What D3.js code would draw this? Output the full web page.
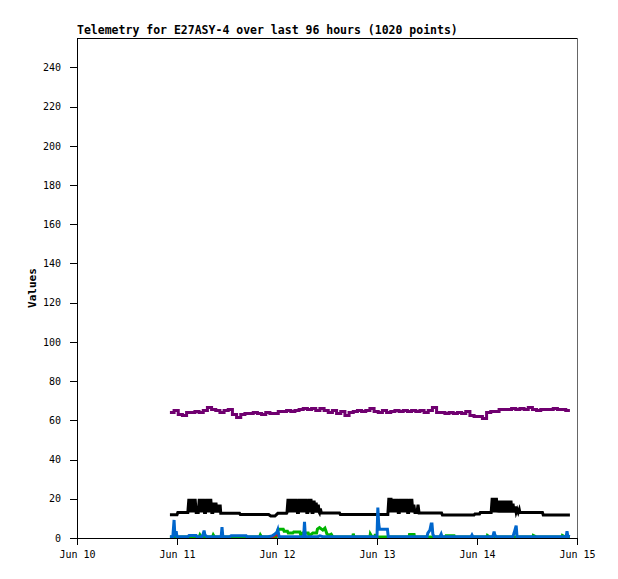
<!DOCTYPE html>
<html>
<head>
<meta charset="utf-8">
<script src="https://cdn.jsdelivr.net/npm/d3@7"></script>
<style>
  body { margin: 0; background: #fff; }
  svg { display: block; }
  .axis text { font-family: "DejaVu Sans Mono", monospace; font-size: 10px; fill: #000; }
  .axis path, .axis line { stroke: #000; shape-rendering: crispEdges; }
  .title { font-family: "DejaVu Sans Mono", monospace; font-size: 11.5px; font-weight: bold; }
  .ylabel { font-family: "DejaVu Sans Mono", monospace; font-size: 11px; font-weight: bold; }
  .series { fill: none; stroke-linejoin: miter; }
</style>
</head>
<body>
<svg id="chart" width="618" height="579"></svg>
<script>
// telemetry chart, hours counted from Jun 10 00:00
const titleText = "Telemetry for E27ASY-4 over last 96 hours (1020 points)";
const yTicks = [0, 20, 40, 60, 80, 100, 120, 140, 160, 180, 200, 220, 240];
const xTickHours = [0, 24, 48, 72, 96, 120];
const xTickLabels = ["Jun 10", "Jun 11", "Jun 12", "Jun 13", "Jun 14", "Jun 15"];

// purple series, hourly samples from hour 22.3
const purpleStart = 22.3;
const purpleValues = [
  64, 65, 63, 62.5, 64, 64, 64.5, 64, 65, 66.5, 65.5, 65, 64, 65, 65.5, 63, 61.5, 63, 63.5, 63.5,
  64, 63.5, 63, 64, 63.5, 63.5, 64.5, 64.5, 65, 64.5, 65, 65.5, 66, 65.5, 66, 65, 66, 65, 64, 65,
  63.5, 64.5, 62.5, 64, 64.5, 65, 64.5, 65, 66, 64.5, 64, 65, 64, 64.5, 65, 64.5, 65, 64.5, 65, 64.5,
  65, 64, 65, 66.5, 64, 64, 63.5, 64, 63.5, 64, 63.5, 64.5, 62.5, 62, 62, 61, 64, 64.5, 64.5, 65.5,
  65.5, 65.5, 66, 65.5, 66, 65.5, 66.5, 65.5, 65, 65.5, 65.5, 65.5, 66, 65.5, 65.5, 65, 65
];

// black series: quiet level [hour, value]
const blackLevel = [
  [22.3, 11.8], [24.0, 11.8], [24.2, 13.0], [26.5, 13.0],
  [34.5, 12.6], [39.0, 12.6], [39.2, 12.0], [46.0, 12.0], [46.5, 11.2], [47.5, 11.2], [48.2, 12.6], [50.3, 12.6],
  [58.2, 12.8], [63.0, 12.8], [63.2, 12.0], [74.5, 12.0],
  [82.3, 12.7], [87.5, 12.7], [87.7, 11.7], [95.3, 11.7], [95.5, 12.2], [96.6, 12.2], [96.8, 13.0], [99.3, 13.0],
  [106.3, 13.0], [111.7, 13.0], [111.9, 11.7], [118.3, 11.7]
];
// black daily bursts, samples every 0.25 h
const burstStep = 0.25;
const burstStarts = [26.6, 50.4, 74.6, 99.4];
const burst1 = [13, 20, 13, 20, 13, 20, 13, 20, 13, 13, 13, 20, 13, 20, 13, 20, 13, 13, 20, 13, 20, 13, 20, 13, 13, 18, 13, 18, 13, 17, 13, 17, 12.6];
const burst2 = [13, 20, 13, 20, 13, 20, 13, 20, 13, 20, 13, 13, 20, 13, 20, 13, 20, 13, 20, 13, 13, 20, 13, 20, 13, 13, 19, 13, 18, 13, 17, 13, 15, 12.8];
const burst3 = [12, 20.5, 13, 20.5, 13, 20, 13, 20, 13, 20, 13, 13, 20, 13, 20, 13, 20, 13, 20, 13, 13, 20, 13, 20, 13, 17, 13, 13, 13, 17, 12.7];
const burst4 = [13, 20.5, 13, 20.5, 13, 20.5, 13, 19, 13, 19, 13, 19, 13, 19, 13, 19, 13, 19, 13, 19, 13, 17.5, 13, 16, 13, 14.5, 13, 14.5, 13];

// blue series [hour, value]
const blueSeries = [
  [22.3, 0.7], [23.0, 0.7], [23.3, 9.2], [23.5, 0.8], [23.8, 3.5], [24.0, 0.7],
  [26.6, 0.7], [26.9, 1.3], [28.6, 1.3], [28.8, 0.7], [30.0, 0.7], [30.2, 1.5], [30.5, 3.8], [30.7, 1.5], [31.2, 0.7],
  [34.6, 0.7], [34.8, 5.5], [35.0, 0.7], [36.7, 0.7], [37.0, 1.1], [40.6, 1.1], [40.8, 0.7],
  [45.8, 0.7], [46.8, 1.0], [47.5, 2.0], [48.0, 3.0], [48.2, 4.2], [48.5, 0.8],
  [54.4, 0.7], [54.6, 8.3], [54.8, 0.8], [57.8, 0.7], [58.3, 1.1], [59.0, 0.7],
  [72.0, 0.7], [72.2, 15.5], [72.4, 7.5], [72.6, 4.5], [74.5, 4.5], [74.7, 0.7],
  [84.0, 0.7], [84.2, 2.5], [84.7, 4.0], [85.0, 7.1], [85.2, 7.1], [85.4, 2.0], [85.7, 0.7],
  [87.1, 0.7], [87.4, 2.0], [87.6, 0.7], [94.6, 0.7], [94.8, 1.5], [95.0, 0.7],
  [99.8, 0.7], [100.1, 3.2], [100.3, 1.5], [100.6, 0.7],
  [104.6, 0.7], [104.9, 2.5], [105.4, 6.3], [105.6, 0.8],
  [117.4, 0.7], [117.6, 3.5], [117.8, 1.0], [118.3, 0.7]
];

// green series [hour, value]
const greenSeries = [
  [22.3, 0.5], [29.3, 0.5], [29.5, 1.6], [29.8, 0.5], [32.5, 0.5], [32.7, 1.6], [33.0, 0.5],
  [43.8, 0.5], [44.0, 1.6], [44.3, 0.5],
  [47.8, 0.5], [48.0, 2.5], [48.3, 4.5], [49.5, 4.5], [49.7, 3.5], [50.5, 3.5], [50.7, 2.5], [51.8, 2.5],
  [52.0, 3.0], [53.5, 3.0], [53.7, 1.5], [54.2, 2.5], [55.5, 2.5], [55.7, 1.0], [56.6, 2.5], [57.5, 2.5],
  [57.7, 4.5], [58.2, 5.3], [59.0, 4.0], [59.5, 5.0], [60.0, 2.0], [60.5, 1.5], [61.0, 2.0], [61.4, 0.5],
  [66.2, 0.5], [66.3, 2.2], [66.5, 0.5], [70.3, 0.5], [70.4, 2.0], [70.8, 0.5], [71.5, 0.5], [71.6, 2.0], [71.8, 0.5],
  [79.7, 0.5], [79.8, 1.8], [80.9, 1.8], [81.0, 0.5], [88.5, 0.5], [88.6, 1.2], [90.5, 1.2], [90.6, 0.5],
  [98.4, 0.5], [98.5, 1.3], [99.0, 0.5], [109.4, 0.5], [109.5, 1.3], [110.3, 0.5],
  [116.4, 0.5], [116.5, 1.3], [117.2, 0.5], [118.3, 0.5]
];

// red series [hour, value]
const redSeries = [[46.3, 0.3], [47.2, 0.8], [48.0, 2.3], [48.3, 0.4]];

(function () {
    const svg = d3.select("#chart");
    const margin = {top: 38, right: 41, bottom: 41, left: 77};
    const width = 618 - margin.left - margin.right;
    const height = 579 - margin.top - margin.bottom;

    const x = d3.scaleLinear().domain([0, 120]).range([0, width]);
    const y = d3.scaleLinear().domain([0, 255]).range([height, 0]);

    const g = svg.append("g").attr("transform", `translate(${margin.left}, ${margin.top})`);

    svg.append("text")
        .attr("class", "title")
        .attr("x", margin.left)
        .attr("y", 34)
        .text(titleText);

    svg.append("text")
        .attr("class", "ylabel")
        .attr("transform", `translate(36, ${margin.top + height / 2}) rotate(-90)`)
        .attr("text-anchor", "middle")
        .text("Values");

    // frame top and right
    g.append("line").attr("x1", 0).attr("x2", width).attr("y1", 0.5).attr("y2", 0.5)
        .attr("stroke", "#000").style("shape-rendering", "crispEdges");
    g.append("line").attr("x1", width + 0.5).attr("x2", width + 0.5).attr("y1", 0).attr("y2", height)
        .attr("stroke", "#666").style("shape-rendering", "crispEdges");

    // build series points
    const purple = purpleValues.map((v, i) => [purpleStart + i, v]);
    const bursts = [burst1, burst2, burst3, burst4].map((b, k) =>
        b.map((v, i) => [burstStarts[k] + i * burstStep, v]));
    const black = blackLevel.concat(...bursts).sort((a, b) => a[0] - b[0]);

    const line = d3.line().x(d => x(d[0])).y(d => y(d[1]));
    const stepLine = d3.line().x(d => x(d[0])).y(d => y(d[1])).curve(d3.curveStepAfter);

    const plot = g.append("g");
    plot.append("path").datum(black).attr("class", "series")
        .attr("stroke", "#000").attr("stroke-width", 3).attr("d", line);
    plot.append("path").datum(purple).attr("class", "series")
        .attr("stroke", "#700070").attr("stroke-width", 3).attr("d", stepLine);
    plot.append("path").datum(greenSeries).attr("class", "series")
        .attr("stroke", "#00b400").attr("stroke-width", 3).attr("d", line);
    plot.append("path").datum(redSeries).attr("class", "series")
        .attr("stroke", "#ff0000").attr("stroke-width", 2.5).attr("d", line);
    plot.append("path").datum(blueSeries).attr("class", "series")
        .attr("stroke", "#0066cc").attr("stroke-width", 3).attr("d", line);

    g.append("g")
        .attr("class", "axis")
        .call(d3.axisLeft(y).tickValues(yTicks).tickSize(7).tickPadding(9))
        .call(a => a.select(".domain").attr("d", `M0.5,0V${height}`));

    g.append("g")
        .attr("class", "axis")
        .attr("transform", `translate(0, ${height})`)
        .call(d3.axisBottom(x).tickValues(xTickHours).tickFormat((d, i) => xTickLabels[i]).tickSize(7).tickPadding(6))
        .call(a => a.select(".domain").attr("d", `M0,0.5H${width}`));
})();
</script>
</body>
</html>
